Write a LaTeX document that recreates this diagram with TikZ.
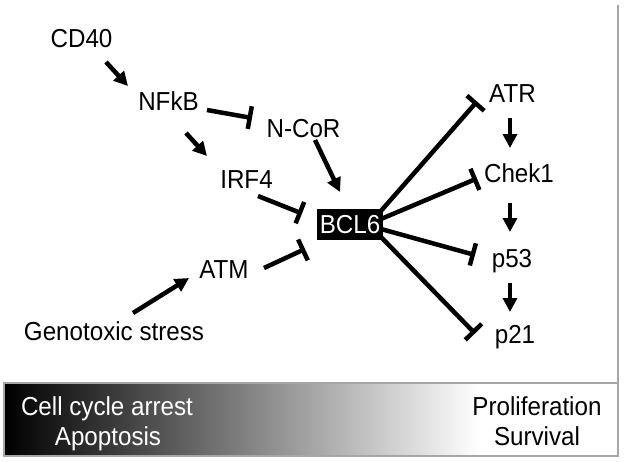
\documentclass[tikz,border=0pt]{standalone}
\usepackage{fontspec}
\setmainfont[FakeStretch=0.93]{Liberation Sans}
\usetikzlibrary{arrows.meta,calc}
\begin{document}
\begin{tikzpicture}[x=1pt,y=-1pt,
  lbl/.style={inner sep=0pt,anchor=base,font=\fontsize{26}{30}\selectfont},
  act/.style={line width=4.5pt,-{Triangle[length=14pt,width=14pt]}},
  inh/.style={line width=4.5pt,-{Bar[width=23pt]}},
  edge/.style={draw=gray!70,line width=1.2pt}]
\useasboundingbox (0,0) rectangle (624,461);
% frame and gradient bar
\draw[edge] (618,5) -- (618,383);
\shade[left color=black,right color=white] (4,383) rectangle (480,456);
\fill[white] (480,383) rectangle (618,456);
\draw[edge] (4,383) rectangle (618,456);
% nodes
\node[lbl] (cd40) at (81.5,47) {CD40};
\node[lbl] (nfkb) at (168.5,110) {NFkB};
\node[lbl] (ncor) at (303.5,137) {N-CoR};
\node[lbl] (irf4) at (246.5,188) {IRF4};
\node[lbl] (atm) at (224,278) {ATM};
\node[lbl] (geno) at (114,340) {Genotoxic stress};
\node[fill=black,text=white,inner sep=0pt,minimum width=66pt,minimum height=31pt,
      font=\fontsize{26}{30}\selectfont] (bcl) at (350,224.5) {BCL6};
\node[lbl] (atr) at (512.5,102) {ATR};
\node[lbl] (chek) at (519,182) {Chek1};
\node[lbl] (p53) at (512,267) {p53};
\node[lbl] (p21) at (515,343) {p21};
\node[lbl,text=white] (cca) at (107,415) {Cell cycle arrest};
\node[lbl,text=white] (apo) at (108,445) {Apoptosis};
\node[lbl] (prol) at (537,415) {Proliferation};
\node[lbl] (surv) at (537,445) {Survival};
% connectors
\draw[act] ($(cd40.base)+(24.5,15)$) -- ($(nfkb.base)+(-40.5,-24)$);
\draw[act] ($(nfkb.base)+(17.5,23)$) -- ($(irf4.base)+(-39.5,-32)$);
\draw[inh] ($(nfkb.base)+(38.5,0)$) -- ($(ncor.base)+(-51.5,-19)$);
\draw[inh] ($(irf4.base)+(11.5,8)$) -- ($(bcl.center)+(-48,-11)$);
\draw[inh] ($(atm.base)+(40,-10)$) -- ($(bcl.center)+(-45,24.5)$);
\draw[act] ($(geno.base)+(19,-27)$) -- ($(atm.base)+(-35,0)$);
\draw[act] ($(ncor.base)+(11.5,3)$) -- ($(bcl.center)+(-10,-32.5)$);
\draw[inh] ($(bcl.center)+(30,-12.5)$) -- ($(atr.base)+(-35.5,-0.5)$);
\draw[inh] ($(bcl.center)+(31,-5.5)$) -- ($(chek.base)+(-42,-3.5)$);
\draw[inh] ($(bcl.center)+(31,4.5)$) -- ($(p53.base)+(-37,-12)$);
\draw[inh] ($(bcl.center)+(31,12.5)$) -- ($(p21.base)+(-40,-9.5)$);
\draw[act] ($(atr.base)+(-2.5,16)$) -- ($(chek.base)+(-9,-34)$);
\draw[act] ($(chek.base)+(-9,21)$) -- ($(p53.base)+(-2,-35)$);
\draw[act] ($(p53.base)+(-2,16)$) -- ($(p21.base)+(-5,-31)$);
\end{tikzpicture}
\end{document}
